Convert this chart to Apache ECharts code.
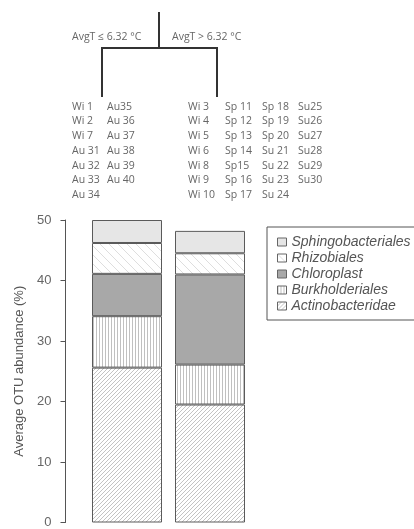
<!DOCTYPE html>
<html>
<head>
<meta charset="utf-8">
<script src="https://cdn.jsdelivr.net/npm/echarts@6/dist/echarts.min.js"></script>
<style>
html,body{margin:0;padding:0;background:#fff;}
#chart{width:414px;height:529px;}
</style>
</head>
<body>
<div id="chart"></div>
<script>
// Two temperature groups from the regression tree split
const groups = ['AvgT ≤ 6.32 °C', 'AvgT > 6.32 °C'];

// Average OTU abundance (%) per order, group 1 then group 2
const actinobacteridae   = [25.6, 19.5];
const burkholderiales    = [8.5, 6.6];
const chloroplast        = [7.0, 14.9];
const rhizobiales        = [5.1, 3.5];
const sphingobacteriales = [3.8, 3.7];

const seriesNames = ['Actinobacteridae', 'Burkholderiales', 'Chloroplast', 'Rhizobiales', 'Sphingobacteriales'];
const legendOrder = ['Sphingobacteriales', 'Rhizobiales', 'Chloroplast', 'Burkholderiales', 'Actinobacteridae'];

// Sample lists under each leaf of the tree (columns)
const leftSamples = [
  ['Wi 1', 'Wi 2', 'Wi 7', 'Au 31', 'Au 32', 'Au 33', 'Au 34'],
  ['Au35', 'Au 36', 'Au 37', 'Au 38', 'Au 39', 'Au 40']
];
const rightSamples = [
  ['Wi 3', 'Wi 4', 'Wi 5', 'Wi 6', 'Wi 8', 'Wi 9', 'Wi 10'],
  ['Sp 11', 'Sp 12', 'Sp 13', 'Sp 14', 'Sp15', 'Sp 16', 'Sp 17'],
  ['Sp 18', 'Sp 19', 'Sp 20', 'Su 21', 'Su 22', 'Su 23', 'Su 24'],
  ['Su25', 'Su26', 'Su27', 'Su28', 'Su29', 'Su30']
];

const yTicks = { min: 0, max: 50, interval: 10 };

// Hatch fills drawn on small repeating tiles
function hatch(kind, size, stroke, bg, lw) {
  const c = document.createElement('canvas');
  c.width = size; c.height = size;
  const g = c.getContext('2d');
  g.fillStyle = bg; g.fillRect(0, 0, size, size);
  g.strokeStyle = stroke; g.lineWidth = lw;
  g.beginPath();
  if (kind === 'fwd') {
    g.moveTo(-1, size + 1); g.lineTo(size + 1, -1);
    g.moveTo(-1, 1); g.lineTo(1, -1);
    g.moveTo(size - 1, size + 1); g.lineTo(size + 1, size - 1);
  } else if (kind === 'back') {
    g.moveTo(-1, -1); g.lineTo(size + 1, size + 1);
    g.moveTo(size - 1, -1); g.lineTo(size + 1, 1);
    g.moveTo(-1, size - 1); g.lineTo(1, size + 1);
  } else if (kind === 'vert') {
    g.moveTo(0.5, 0); g.lineTo(0.5, size);
  }
  g.stroke();
  return { image: c, repeat: 'repeat' };
}

const fills = {
  Actinobacteridae: hatch('fwd', 4, '#b4b4b4', '#ffffff', 0.8),
  Burkholderiales: hatch('vert', 3, '#c0c0c0', '#ffffff', 1),
  Chloroplast: '#a8a8a8',
  Rhizobiales: hatch('back', 9, '#dedede', '#ffffff', 1),
  Sphingobacteriales: '#e6e6e6'
};
const values = {
  Actinobacteridae: actinobacteridae,
  Burkholderiales: burkholderiales,
  Chloroplast: chloroplast,
  Rhizobiales: rhizobiales,
  Sphingobacteriales: sphingobacteriales
};

const series = seriesNames.map(name => ({
  name: name,
  type: 'bar',
  stack: 'otu',
  barWidth: 70,
  data: values[name],
  itemStyle: { color: fills[name], borderColor: '#5a5a5a', borderWidth: 1 },
  emphasis: { disabled: true }
}));

// Tree and sample labels above the bars
const treeStroke = { stroke: '#333', lineWidth: 2 };
const smallFont = '10.5px "Open Sans", sans-serif';
const graphic = [
  { type: 'line', shape: { x1: 159, y1: 12, x2: 159, y2: 49 }, style: treeStroke },
  { type: 'line', shape: { x1: 102, y1: 48, x2: 217, y2: 48 }, style: treeStroke },
  { type: 'line', shape: { x1: 102, y1: 47, x2: 102, y2: 97 }, style: treeStroke },
  { type: 'line', shape: { x1: 217, y1: 47, x2: 217, y2: 97 }, style: treeStroke },
  { type: 'text', left: 72, top: 32, style: { text: groups[0], font: smallFont, fill: '#666' } },
  { type: 'text', left: 172, top: 32, style: { text: groups[1], font: smallFont, fill: '#666' } }
];
const rowY = [109, 123, 138, 153, 168, 182, 197];
function addColumns(cols, xs) {
  cols.forEach((col, ci) => {
    col.forEach((label, ri) => {
      graphic.push({
        type: 'text', left: xs[ci], top: rowY[ri] - 7,
        style: { text: label, font: smallFont, fill: '#666' }
      });
    });
  });
}
addColumns(leftSamples, [72, 107]);
addColumns(rightSamples, [188, 225, 262, 298]);

const chart = echarts.init(document.getElementById('chart'), null, { renderer: 'canvas' });
chart.setOption({
  animation: false,
  backgroundColor: '#fff',
  grid: { left: 85.5, width: 166, top: 220, bottom: 3, containLabel: false },
  xAxis: {
    type: 'category',
    data: groups,
    show: false
  },
  yAxis: {
    type: 'value',
    min: yTicks.min, max: yTicks.max, interval: yTicks.interval,
    offset: 20,
    name: 'Average OTU abundance (%)',
    nameLocation: 'middle',
    nameGap: 40,
    nameRotate: 90,
    nameTextStyle: { fontFamily: 'Liberation Sans, Arial, sans-serif', fontSize: 13, color: '#555' },
    axisLine: { show: true, lineStyle: { color: '#555', width: 1 } },
    axisTick: { show: true, length: 5, lineStyle: { color: '#555' } },
    axisLabel: { fontFamily: 'Liberation Sans, Arial, sans-serif', fontSize: 13, color: '#666', margin: 14 },
    splitLine: { show: false }
  },
  legend: {
    data: legendOrder,
    orient: 'vertical',
    left: 267,
    top: 227,
    padding: [7, 60, 6, 10],
    borderColor: '#555',
    borderWidth: 1,
    itemWidth: 9,
    itemHeight: 8,
    itemGap: 0,
    itemStyle: { borderColor: '#666', borderWidth: 1 },
    textStyle: { fontFamily: 'Liberation Sans, Arial, sans-serif', fontSize: 14, fontStyle: 'italic', color: '#555', lineHeight: 16 },
    icon: 'rect',
    selectedMode: false
  },
  graphic: graphic,
  series: series
});
</script>
</body>
</html>
